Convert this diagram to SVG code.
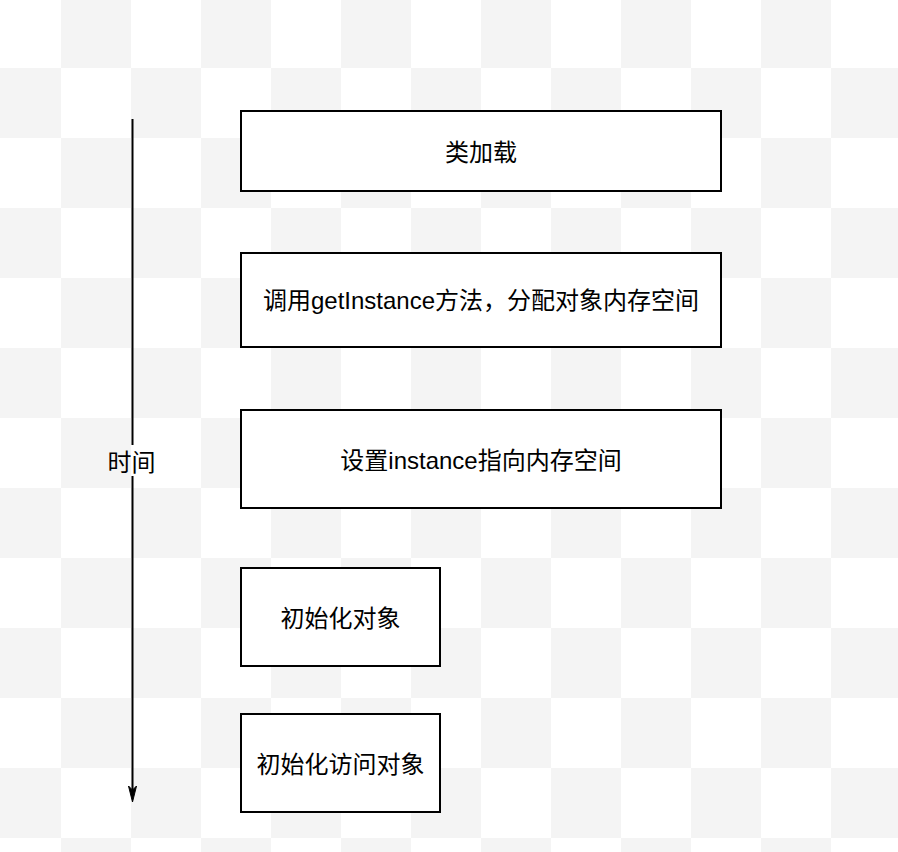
<svg xmlns="http://www.w3.org/2000/svg" width="898" height="852" viewBox="0 0 898 852">
<defs>
<pattern id="checker" x="-9" y="-2" width="140" height="140" patternUnits="userSpaceOnUse">
<rect x="0" y="0" width="140" height="140" fill="#ffffff"/>
<rect x="70" y="0" width="70" height="70" fill="#f4f4f4"/>
<rect x="0" y="70" width="70" height="70" fill="#f4f4f4"/>
</pattern>
<style>
.box{fill:#ffffff;stroke:#000000;stroke-width:2}
.lbl{font-family:"Liberation Sans","Noto Sans CJK SC",sans-serif;font-size:24px;fill:#000000;text-anchor:middle}
.edge{stroke:#000000;stroke-width:2;fill:none}
</style>
</defs>
<rect x="0" y="0" width="898" height="852" fill="url(#checker)"/>
<g id="connectors">
<line class="edge" x1="132.5" y1="119" x2="132.5" y2="445"/>
<line class="edge" x1="132.5" y1="476" x2="132.5" y2="792"/>
<path d="M128.5,786 L132.5,802 L136.5,786 L132.5,790 Z" fill="#000000" stroke="#000000" stroke-width="1"/>
<text class="lbl" x="131.5" y="471">时间</text>
</g>
<g id="n1"><rect class="box" x="241" y="111" width="480" height="80"/><text class="lbl" x="481" y="161">类加载</text></g>
<g id="n2"><rect class="box" x="241" y="253" width="480" height="94"/><text class="lbl" x="481" y="309">调用getInstance方法，分配对象内存空间</text></g>
<g id="n3"><rect class="box" x="241" y="410" width="480" height="98"/><text class="lbl" x="481" y="469">设置instance指向内存空间</text></g>
<g id="n4"><rect class="box" x="241" y="568" width="199" height="98"/><text class="lbl" x="340.5" y="627">初始化对象</text></g>
<g id="n5"><rect class="box" x="241" y="714" width="199" height="98"/><text class="lbl" x="340.5" y="773">初始化访问对象</text></g>
</svg>
